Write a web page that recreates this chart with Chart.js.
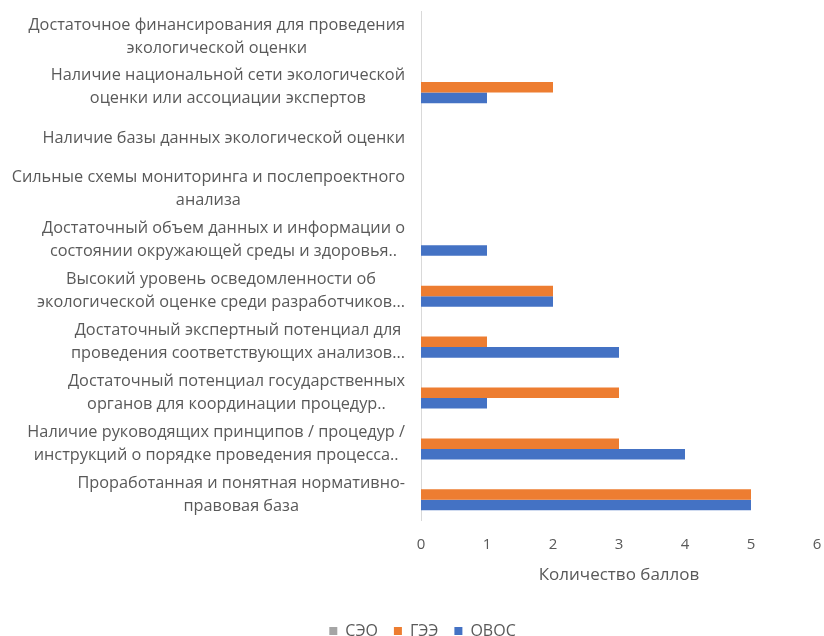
<!DOCTYPE html>
<html>
<head>
<meta charset="utf-8">
<script src="https://cdn.jsdelivr.net/npm/chart.js@4/dist/chart.umd.min.js"></script>
<style>
  html, body { margin: 0; padding: 0; background: #fff; }
  #wrap { width: 824px; height: 636px; }
</style>
</head>
<body>
<div id="wrap"><canvas id="myChart"></canvas></div>
<script>
/* globals Chart:false */

// category labels, already split into the lines shown on the axis
const categories = [
  ['Достаточное финансирования для проведения', 'экологической оценки'],
  ['Наличие национальной сети экологической', 'оценки или ассоциации экспертов'],
  ['Наличие базы данных экологической оценки'],
  ['Сильные схемы мониторинга и послепроектного', 'анализа'],
  ['Достаточный объем данных и информации о', 'состоянии окружающей среды и здоровья..'],
  ['Высокий уровень осведомленности об', 'экологической оценке среди разработчиков...'],
  ['Достаточный экспертный потенциал для', 'проведения соответствующих анализов...'],
  ['Достаточный потенциал государственных', 'органов для координации процедур..'],
  ['Наличие руководящих принципов / процедур /', 'инструкций о порядке проведения процесса..'],
  ['Проработанная и понятная нормативно-', 'правовая база']
]

const seo = [0, 0, 0, 0, 0, 0, 0, 0, 0, 0]
const gee = [0, 2, 0, 0, 0, 2, 1, 3, 3, 5]
const ovos = [0, 1, 0, 0, 1, 2, 3, 1, 4, 5]

const xTicks = [0, 1, 2, 3, 4, 5, 6]

const FONT = '"Open Sans", sans-serif'
const TEXT = '#595959'

// draws the wrapped category labels: each block right-aligned, its lines centred
const categoryLabels = {
  id: 'categoryLabels',
  afterDraw (chart) {
    const { ctx } = chart
    const yScale = chart.scales.y
    const right = yScale.right - 16
    const lh = 23
    ctx.save()
    ctx.font = '16.3px ' + FONT
    ctx.fillStyle = TEXT
    ctx.textAlign = 'center'
    ctx.textBaseline = 'middle'
    categories.forEach((lines, i) => {
      const w = Math.max(...lines.map(l => ctx.measureText(l).width))
      const cx = right - w / 2
      const y0 = yScale.getPixelForTick(i) - (lines.length - 1) * lh / 2
      lines.forEach((l, j) => ctx.fillText(l, cx, y0 + j * lh))
    })
    ctx.restore()
  }
}

new Chart(document.getElementById('myChart'), {
  type: 'bar',
  data: {
    labels: categories,
    datasets: [
      { label: 'СЭО', data: seo, backgroundColor: '#A5A5A5' },
      { label: 'ГЭЭ', data: gee, backgroundColor: '#ED7D31' },
      { label: 'ОВОС', data: ovos, backgroundColor: '#4472C4' }
    ]
  },
  options: {
    indexAxis: 'y',
    responsive: true,
    maintainAspectRatio: false,
    animation: false,
    datasets: {
      bar: { categoryPercentage: 0.62, barPercentage: 1 }
    },
    layout: { padding: { top: 11, right: 7, left: 28, bottom: -13 } },
    scales: {
      x: {
        min: 0,
        max: 6,
        afterFit (scale) {
          scale.height = 87
          scale.paddingLeft = 0
          scale.paddingRight = 0
        },
        afterBuildTicks (scale) { scale.ticks = xTicks.map(v => ({ value: v })) },
        grid: { display: false, drawTicks: false },
        border: { display: false },
        ticks: { color: TEXT, font: { family: FONT, size: 15 }, padding: 16 },
        title: {
          display: true,
          text: 'Количество баллов',
          color: TEXT,
          font: { family: FONT, size: 17 },
          padding: { top: 0, bottom: 22 }
        }
      },
      y: {
        afterFit (scale) { scale.width = 393 },
        grid: { display: false, drawTicks: false },
        border: { display: true, color: '#D9D9D9', width: 1 },
        ticks: { display: false }
      }
    },
    plugins: {
      legend: {
        position: 'bottom',
        labels: {
          color: TEXT,
          font: { family: FONT, size: 16 },
          boxWidth: 8,
          boxHeight: 8,
          padding: 16
        }
      },
      tooltip: { enabled: false }
    }
  },
  plugins: [categoryLabels]
})
</script>
</body>
</html>
